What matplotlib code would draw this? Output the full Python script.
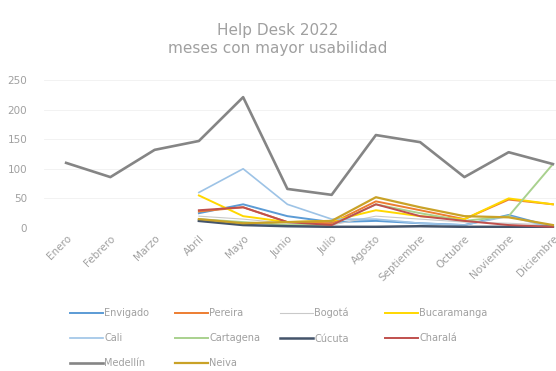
import numpy as np
import matplotlib
matplotlib.use("Agg")
import matplotlib.pyplot as plt

nan = np.nan

meses = ['Enero', 'Febrero', 'Marzo', 'Abril', 'Mayo', 'Junio', 'Julio',
         'Agosto', 'Septiembre', 'Octubre', 'Noviembre', 'Diciembre']

envigado = [nan, nan, nan, 25, 40, 20, 10, 12, 8, 5, 22, 2]
pereira = [nan, nan, nan, 28, 35, 10, 8, 45, 30, 15, 48, 40]
bogota = [nan, nan, nan, 20, 15, 8, 5, 20, 15, 10, 8, 5]
bucaramanga = [nan, nan, nan, 55, 20, 10, 12, 30, 20, 15, 50, 40]
cali = [nan, nan, nan, 60, 100, 40, 15, 15, 8, 5, 20, 0]
cartagena = [nan, nan, nan, 15, 10, 5, 5, 40, 25, 12, 20, 108]
cucuta = [nan, nan, nan, 12, 5, 3, 2, 2, 3, 2, 2, 2]
charala = [nan, nan, nan, 30, 35, 10, 5, 40, 20, 12, 5, 2]
medellin = [110, 86, 132, 147, 221, 66, 56, 157, 145, 86, 128, 108]
neiva = [nan, nan, nan, 15, 8, 10, 12, 52, 35, 20, 18, 5]

nombres = ['Envigado', 'Pereira', 'Bogotá', 'Bucaramanga', 'Cali',
           'Cartagena', 'Cúcuta', 'Charalá', 'Medellín', 'Neiva']
series = [envigado, pereira, bogota, bucaramanga, cali,
          cartagena, cucuta, charala, medellin, neiva]
colores = ['#5B9BD5', '#ED7D31', '#C9C9C9', '#FFD700', '#9DC3E6',
           '#A9D18E', '#44546A', '#C0504D', '#858585', '#C9A227']
anchos = [1.4, 1.4, 0.8, 1.4, 1.2, 1.4, 1.8, 1.4, 1.9, 1.6]

gris = '#A0A0A0'

fig = plt.figure(figsize=(5.56, 3.71), dpi=100)
ax = fig.add_axes([44 / 556, 1 - 228 / 371, 1 - 44 / 556, 148 / 371])

x = np.arange(len(meses))
handles = []
for nombre, datos, c, lw in zip(nombres, series, colores, anchos):
    h, = ax.plot(x, datos, color=c, linewidth=lw, label=nombre,
                 solid_joinstyle='round')
    handles.append(h)

ax.set_xlim(-0.5, 11.07)
ax.set_ylim(0, 250)
ax.set_yticks(np.arange(0, 251, 50))
ax.yaxis.grid(True, color='#F0F0F0', linewidth=0.6)
ax.set_axisbelow(True)
for s in ax.spines.values():
    s.set_visible(False)
ax.tick_params(axis='both', length=0, colors=gris, labelsize=7.5)
ax.tick_params(axis='y', pad=12)
ax.tick_params(axis='x', pad=4)
ax.set_xticks(x)
ax.set_xticklabels(meses, rotation=45, ha='right', rotation_mode='anchor')

fig.text(0.5, 1 - 30 / 371, 'Help Desk 2022', ha='center', va='center',
         fontsize=11, color=gris)
fig.text(0.5, 1 - 48 / 371, 'meses con mayor usabilidad', ha='center',
         va='center', fontsize=11, color=gris)

# leyenda en 4 columnas de igual ancho, llenadas por filas
col_x = [70, 175, 280, 385]
for j, cx in enumerate(col_x):
    idx = list(range(j, len(nombres), 4))
    fig.legend([handles[i] for i in idx], [nombres[i] for i in idx],
               loc='upper left', bbox_to_anchor=(cx / 556, 1 - 308 / 371),
               ncol=1, frameon=False, fontsize=7, labelcolor=gris,
               handlelength=3.4, handletextpad=0.1, borderaxespad=0,
               borderpad=0, labelspacing=1.55)

fig.savefig('out.png', dpi=100)
